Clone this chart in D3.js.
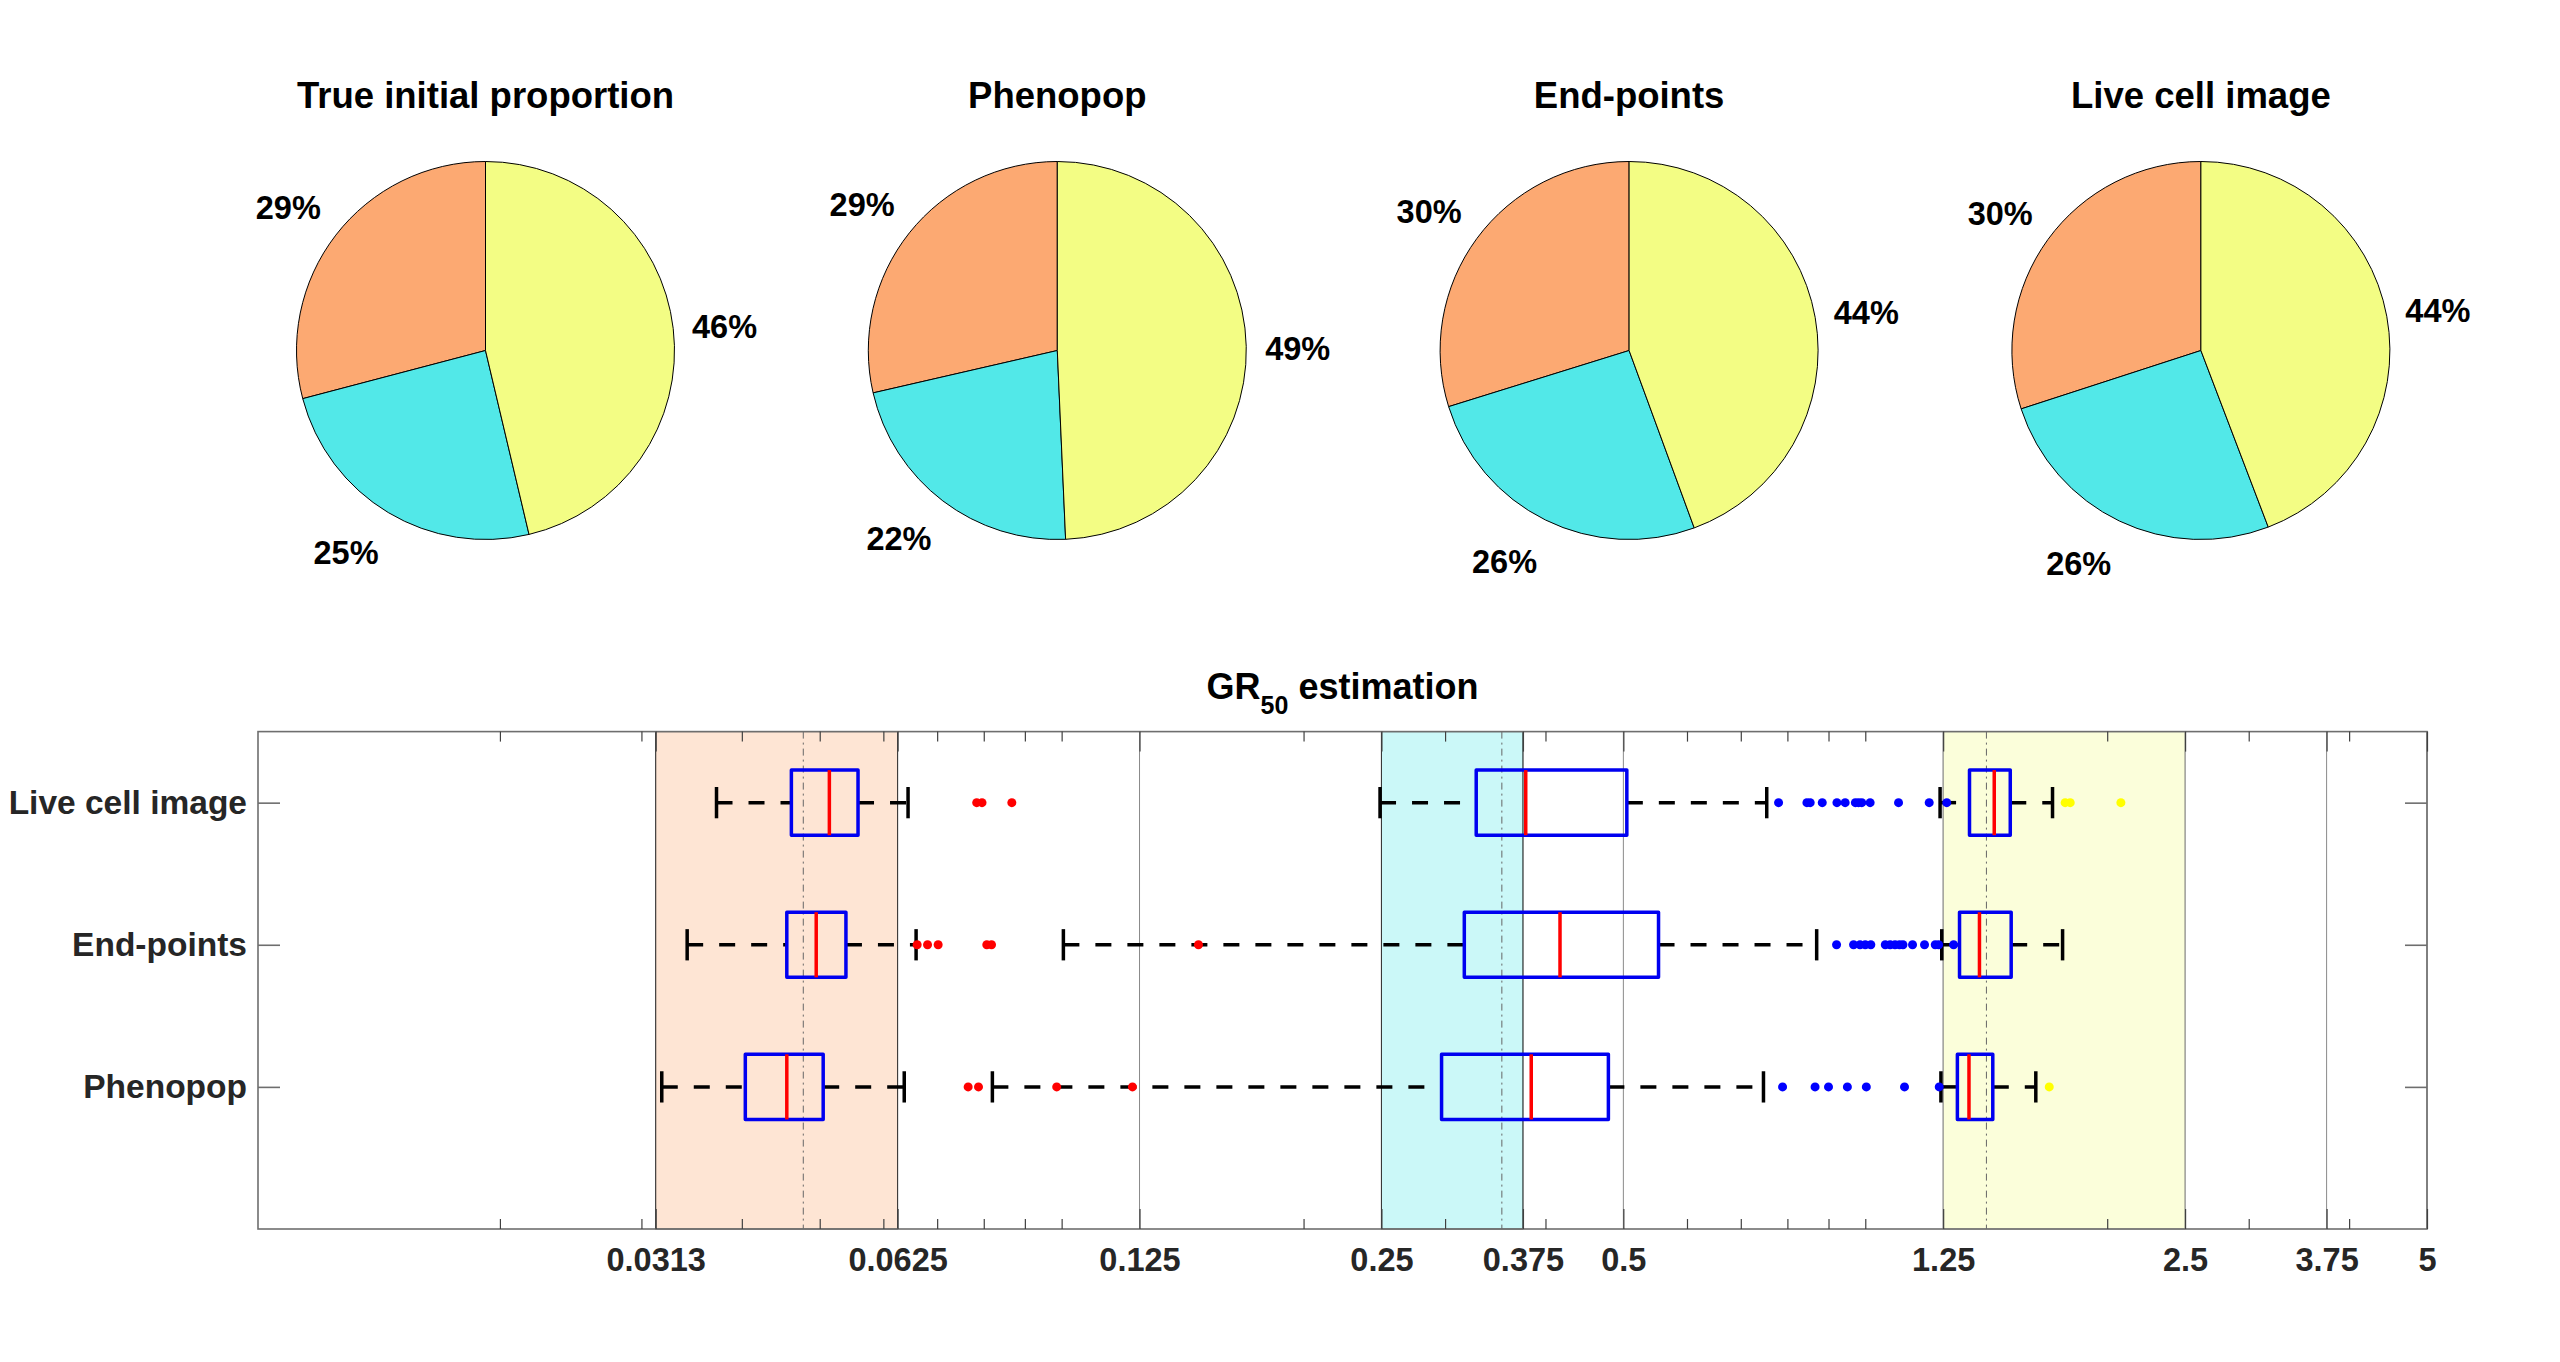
<!DOCTYPE html>
<html>
<head>
<meta charset="utf-8">
<script src="https://cdn.jsdelivr.net/npm/d3@7"></script>
<style>
html, body { margin: 0; padding: 0; background: #ffffff; }
svg { display: block; }
text { font-family: "Liberation Sans", Arial, Helvetica, sans-serif; font-weight: bold; }
</style>
</head>
<body>
<svg id="chart" width="2560" height="1362"></svg>
<script>
// ---------------- DATA ----------------
const pieTitles = ["True initial proportion", "Phenopop", "End-points", "Live cell image"];
const trueProportion     = [0.291, 0.246, 0.463];
const phenopopProportion = [0.286, 0.221, 0.493];
const endpointsProportion = [0.298, 0.258, 0.444];
const liveCellProportion = [0.300, 0.258, 0.442];
const pieValues = [trueProportion, phenopopProportion, endpointsProportion, liveCellProportion];

const populationColors = ["#FCA972", "#52E8E8", "#F3FD84"];
const outlierColors = ["#ff0000", "#0000ff", "#ffff00"];

const methods = ["Phenopop", "End-points", "Live cell image"]; // y = 1, 2, 3

// box stats per population: [lower whisker, Q1, median, Q3, upper whisker]
const phenopopStats = [
  [0.0318, 0.0404, 0.0455, 0.0505, 0.0637],
  [0.082, 0.297, 0.384, 0.479, 0.747],
  [1.242, 1.302, 1.346, 1.441, 1.63]
];
const phenopopOutliers = [
  [0.0765, 0.0788, 0.0986, 0.1225],
  [0.789, 0.866, 0.900, 0.950, 1.003, 1.119, 1.236],
  [1.694]
];
const endpointsStats = [
  [0.0342, 0.0455, 0.0495, 0.0539, 0.0659],
  [0.1005, 0.317, 0.417, 0.553, 0.870],
  [1.245, 1.31, 1.387, 1.519, 1.76]
];
const endpointsOutliers = [
  [0.0661, 0.0681, 0.0702, 0.0807, 0.0818, 0.148],
  [0.921, 0.967, 0.985, 1.0, 1.016, 1.059, 1.074, 1.089, 1.103, 1.114, 1.145, 1.185, 1.222, 1.234, 1.288],
  []
];
const liveStats = [
  [0.0372, 0.0461, 0.0514, 0.0558, 0.0644],
  [0.249, 0.328, 0.378, 0.505, 0.754],
  [1.239, 1.348, 1.447, 1.515, 1.71]
];
const liveOutliers = [
  [0.0784, 0.0796, 0.0867],
  [0.780, 0.846, 0.854, 0.884, 0.922, 0.944, 0.972, 0.981, 0.990, 1.014, 1.100, 1.201, 1.263],
  [1.773, 1.799, 2.08]
];
const methodStats = [phenopopStats, endpointsStats, liveStats];
const methodOutliers = [phenopopOutliers, endpointsOutliers, liveOutliers];

const trueRanges = [[0.03125, 0.0625], [0.25, 0.375], [1.25, 2.5]];
const trueValues = [0.0477, 0.353, 1.415];

const xTickValues = [0.03125, 0.0625, 0.125, 0.25, 0.375, 0.5, 1.25, 2.5, 3.75, 5];
const xTickLabels = ["0.0313", "0.0625", "0.125", "0.25", "0.375", "0.5", "1.25", "2.5", "3.75", "5"];
const xMinorTicks = [0.02, 0.03, 0.04, 0.05, 0.06, 0.07, 0.08, 0.09, 0.1, 0.2, 0.3, 0.4, 0.6, 0.7, 0.8, 0.9, 1, 2, 3, 4];

// ---------------- DRAW ----------------
const svg = d3.select("#chart");

// ---- Pies ----
const pieR = 189, pieCy = 350.5, pieCx0 = 485.5, pieDx = 571.8;
const pieGen = d3.pie().sort(null).startAngle(0).endAngle(-2 * Math.PI);
const arcGen = d3.arc().innerRadius(0).outerRadius(pieR);

pieValues.forEach((vals, i) => {
  const cx = pieCx0 + i * pieDx;
  const g = svg.append("g").attr("transform", `translate(${cx},${pieCy})`);
  const arcs = pieGen(vals);
  g.selectAll("path").data(arcs).enter().append("path")
    .attr("d", arcGen)
    .attr("fill", (d, j) => populationColors[j])
    .attr("stroke", "#000")
    .attr("stroke-width", 1);
  arcs.forEach(a => {
    const mid = (a.startAngle + a.endAngle) / 2;
    const dx = Math.sin(mid), dy = -Math.cos(mid);
    const px = 1.1 * pieR * dx, py = 1.1 * pieR * dy;
    g.append("text")
      .attr("x", px)
      .attr("y", py + dy * 28 + 4 * (1 - Math.abs(dy)))
      .attr("text-anchor", dx < 0 ? "end" : "start")
      .attr("dominant-baseline", "central")
      .attr("font-size", 32.5)
      .attr("fill", "#000")
      .text(Math.round(a.data * 100) + "%");
  });
  svg.append("text")
    .attr("x", cx).attr("y", 108)
    .attr("text-anchor", "middle")
    .attr("font-size", 36.5)
    .attr("fill", "#000")
    .text(pieTitles[i]);
});

// ---- Box plot ----
const pLeft = 258, pRight = 2427, pTop = 731.6, pBottom = 1229;
const x = d3.scaleLog().domain([0.01, 5]).range([pLeft, pRight]);
const y = d3.scaleLinear().domain([0, 3.5]).range([pBottom, pTop]);
const boxHalf = 0.229, capHalf = 0.11;
const axisColor = "#6e6e6e", tickColor = "#404040";

const plot = svg.append("g");

// grid lines
plot.selectAll("line.grid").data(xTickValues).enter().append("line")
  .attr("x1", d => x(d)).attr("x2", d => x(d))
  .attr("y1", pTop).attr("y2", pBottom)
  .attr("stroke", "#8a8a8a").attr("stroke-width", 1);

// shaded true ranges
const regionEdge = ["#333333", "#333333", "#9a9a9a"];
trueRanges.forEach((r, i) => {
  plot.append("rect")
    .attr("x", x(r[0])).attr("y", pTop)
    .attr("width", x(r[1]) - x(r[0])).attr("height", pBottom - pTop)
    .attr("fill", populationColors[i]).attr("fill-opacity", 0.3)
    .attr("stroke", regionEdge[i]).attr("stroke-width", 1);
});
// dash-dot true values
plot.selectAll("line.truev").data(trueValues).enter().append("line")
  .attr("x1", d => x(d)).attr("x2", d => x(d))
  .attr("y1", pTop).attr("y2", pBottom)
  .attr("stroke", "#666").attr("stroke-width", 1)
  .attr("stroke-dasharray", "7,4,2,4");

// boxes
methodStats.forEach((statsList, m) => {
  const yc = m + 1;
  statsList.forEach((s, p) => {
    const g = plot.append("g");
    [[s[0], s[1]], [s[3], s[4]]].forEach(seg => {
      g.append("line")
        .attr("x1", x(seg[0])).attr("x2", x(seg[1]))
        .attr("y1", y(yc)).attr("y2", y(yc))
        .attr("stroke", "#000").attr("stroke-width", 3.5)
        .attr("stroke-dasharray", "16,16");
    });
    [s[0], s[4]].forEach(v => {
      g.append("line")
        .attr("x1", x(v)).attr("x2", x(v))
        .attr("y1", y(yc + capHalf)).attr("y2", y(yc - capHalf))
        .attr("stroke", "#000").attr("stroke-width", 3.5);
    });
    g.append("rect")
      .attr("x", x(s[1])).attr("y", y(yc + boxHalf))
      .attr("width", x(s[3]) - x(s[1]))
      .attr("height", y(yc - boxHalf) - y(yc + boxHalf))
      .attr("fill", "none").attr("stroke", "#0000f0")
      .attr("stroke-width", 3.5).attr("stroke-linejoin", "round");
    g.append("line")
      .attr("x1", x(s[2])).attr("x2", x(s[2]))
      .attr("y1", y(yc + boxHalf)).attr("y2", y(yc - boxHalf))
      .attr("stroke", "#ff0000").attr("stroke-width", 3.5);
  });
});
// outliers
methodOutliers.forEach((outList, m) => {
  const yc = m + 1;
  outList.forEach((vals, p) => {
    plot.selectAll(null).data(vals).enter().append("circle")
      .attr("cx", d => x(d)).attr("cy", y(yc)).attr("r", 4.5)
      .attr("fill", outlierColors[p]);
  });
});

// frame
plot.append("rect")
  .attr("x", pLeft).attr("y", pTop)
  .attr("width", pRight - pLeft).attr("height", pBottom - pTop)
  .attr("fill", "none").attr("stroke", axisColor).attr("stroke-width", 1.6);

// axes
function styleAxis(g, size) {
  g.select(".domain").remove();
  g.selectAll(".tick line").attr("stroke", tickColor).attr("stroke-width", 1.2);
  g.selectAll(".tick text")
    .attr("font-size", size || 32.5).attr("fill", "#262626")
    .attr("font-family", "\"Liberation Sans\", Arial, Helvetica, sans-serif")
    .attr("font-weight", "bold");
}
svg.append("g").attr("transform", `translate(0,${pBottom})`)
  .call(d3.axisBottom(x).tickValues(xMinorTicks).tickFormat("").tickSizeInner(-10).tickSizeOuter(0))
  .call(styleAxis);
svg.append("g").attr("transform", `translate(0,${pTop})`)
  .call(d3.axisTop(x).tickValues(xMinorTicks).tickFormat("").tickSizeInner(-10).tickSizeOuter(0))
  .call(styleAxis);
svg.append("g").attr("transform", `translate(0,${pBottom})`)
  .call(d3.axisBottom(x).tickValues(xTickValues).tickFormat((d, i) => xTickLabels[i]).tickSizeInner(-20).tickSizeOuter(0).tickPadding(19))
  .call(styleAxis);
svg.append("g").attr("transform", `translate(0,${pTop})`)
  .call(d3.axisTop(x).tickValues(xTickValues).tickFormat("").tickSizeInner(-20).tickSizeOuter(0))
  .call(styleAxis);
svg.append("g").attr("transform", `translate(${pLeft},0)`)
  .call(d3.axisLeft(y).tickValues([1, 2, 3]).tickFormat(d => methods[d - 1]).tickSizeInner(-22).tickSizeOuter(0).tickPadding(11))
  .call(g => styleAxis(g, 33.5))
  .call(g => g.selectAll(".tick line").attr("stroke", axisColor).attr("stroke-width", 1.6));
svg.append("g").attr("transform", `translate(${pRight},0)`)
  .call(d3.axisRight(y).tickValues([1, 2, 3]).tickFormat("").tickSizeInner(-22).tickSizeOuter(0))
  .call(styleAxis)
  .call(g => g.selectAll(".tick line").attr("stroke", axisColor).attr("stroke-width", 1.6));

// title with subscript
const title = svg.append("text")
  .attr("x", (pLeft + pRight) / 2).attr("y", 699)
  .attr("text-anchor", "middle").attr("font-size", 36).attr("fill", "#000");
title.append("tspan").text("GR");
title.append("tspan").attr("font-size", 25).attr("dy", 15).text("50");
title.append("tspan").attr("dy", -15).text(" estimation");
</script>
</body>
</html>
